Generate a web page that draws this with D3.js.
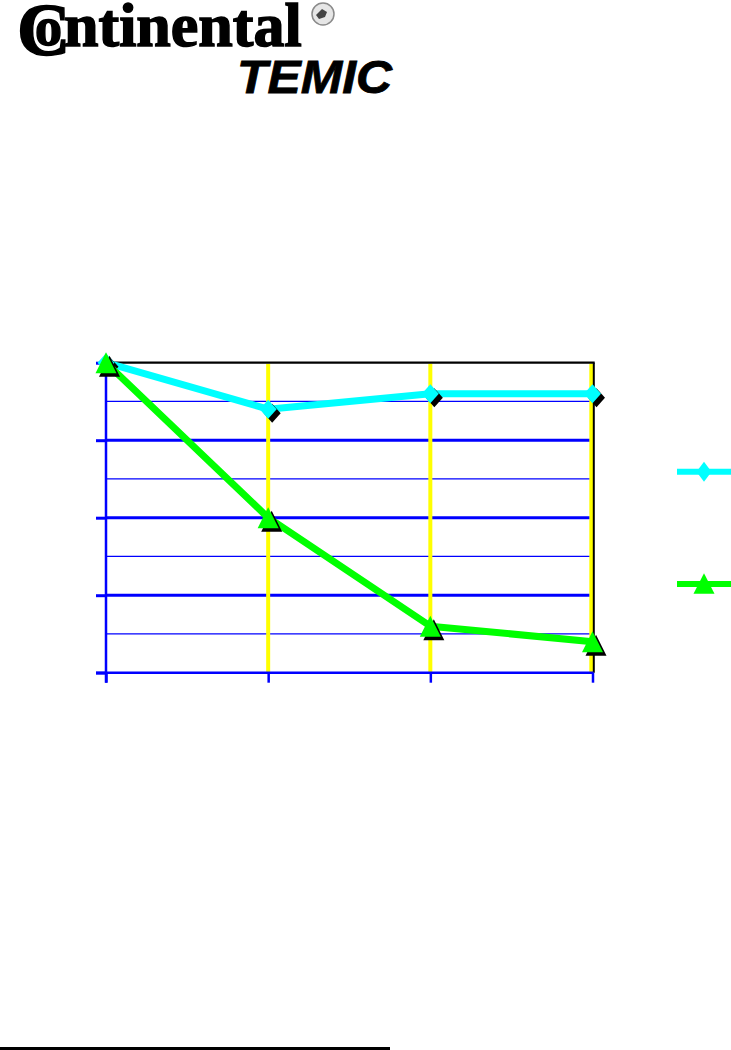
<!DOCTYPE html>
<html>
<head>
<meta charset="utf-8">
<script src="https://cdn.jsdelivr.net/npm/d3@7/dist/d3.min.js"></script>
<style>
html,body{margin:0;padding:0;background:#fff;}
svg{display:block;}
</style>
</head>
<body>
<svg id="chart" width="731" height="1050"></svg>
<script>
// Data
const categories = ["1", "2", "3", "4"];
const seriesNames = ["Series A", "Series B"];
const seriesA = [100, 85, 90, 90];
const seriesB = [100, 50, 15, 10];
const majorTicks = [0, 25, 50, 75, 100];
const minorTicks = [12.5, 37.5, 62.5, 87.5];

const svg = d3.select("#chart");

// Logo
const logo = svg.append("g");
const brand = logo.append("text")
  .attr("font-family", "Liberation Serif").attr("font-weight", "bold")
  .attr("stroke", "#000").attr("stroke-width", 1.5);
brand.append("tspan").attr("x", 17).attr("y", 55).attr("font-size", 74).text("C");
brand.append("tspan").attr("x", 35).attr("y", 45).attr("font-size", 54).text("o");
brand.append("tspan").attr("x", 64).attr("y", 46).attr("font-size", 62).text("ntinental");

logo.append("circle").attr("cx", 323).attr("cy", 14).attr("r", 11)
  .attr("fill", "#e6e6e6").attr("stroke", "#8a8a8a").attr("stroke-width", 1.5);
logo.append("path").attr("d", "M316,15 L322,9 L327,12 L325,17 L319,19 Z")
  .attr("fill", "#444");
logo.append("text").attr("x", 237).attr("y", 93)
  .attr("font-family", "Liberation Sans").attr("font-weight", "bold").attr("font-style", "italic")
  .attr("font-size", 46).attr("textLength", 155).attr("lengthAdjust", "spacingAndGlyphs")
  .attr("stroke", "#000").attr("stroke-width", 0.8)
  .text("TEMIC");

// Scales
const pLeft = 106, pRight = 592.5, pTop = 362.7, pBottom = 672.7;
const x = d3.scalePoint().domain(categories).range([pLeft, pRight]).padding(0);
const y = d3.scaleLinear().domain([0, 100]).range([pBottom, pTop]);

const g = svg.append("g");

// minor gridlines
g.selectAll(".minor").data(minorTicks).join("line")
  .attr("x1", pLeft).attr("x2", 591).attr("y1", d => y(d)).attr("y2", d => y(d))
  .attr("stroke", "#0000ff").attr("stroke-width", 1.3);

// major gridlines
g.selectAll(".major").data(majorTicks.slice(1, 4)).join("line")
  .attr("x1", pLeft).attr("x2", 591).attr("y1", d => y(d)).attr("y2", d => y(d))
  .attr("stroke", "#0000ff").attr("stroke-width", 3);

// category (yellow) gridlines
g.selectAll(".vgrid").data(categories.slice(1)).join("line")
  .attr("x1", d => Math.min(x(d), 591.3)).attr("x2", d => Math.min(x(d), 591.3))
  .attr("y1", pTop + 1).attr("y2", pBottom)
  .attr("stroke", "#ffff00").attr("stroke-width", 4);

// top and right border
g.append("line").attr("x1", pLeft).attr("x2", 594.7).attr("y1", pTop).attr("y2", pTop)
  .attr("stroke", "#000").attr("stroke-width", 2.2);
g.append("line").attr("x1", 593.8).attr("x2", 593.8).attr("y1", pTop).attr("y2", pBottom)
  .attr("stroke", "#000").attr("stroke-width", 2);

// axes
const yAxis = d3.axisLeft(y).tickValues(majorTicks).tickSize(10).tickFormat("");
const ya = g.append("g").attr("transform", `translate(${pLeft},0)`).call(yAxis);
ya.select(".domain").attr("stroke", "#0000ff").attr("stroke-width", 2.5).attr("d", `M0,${pTop}V${pBottom + 10}`);
ya.selectAll(".tick line").attr("stroke", "#0000ff").attr("stroke-width", 3);

const xAxis = d3.axisBottom(x).tickSize(10).tickFormat("");
const xa = g.append("g").attr("transform", `translate(0,${pBottom})`).call(xAxis);
xa.select(".domain").attr("stroke", "#0000ff").attr("stroke-width", 2.5).attr("d", `M96,0H${pRight + 1}`);
xa.selectAll(".tick line").attr("stroke", "#0000ff").attr("stroke-width", 2.5);

// markers
const diamond = (cx, cy, w, h) => `M${cx},${cy - h}L${cx + w},${cy}L${cx},${cy + h}L${cx - w},${cy}Z`;
const triangle = (cx, cy, w, h) => `M${cx},${cy - h / 2}L${cx + w / 2},${cy + h / 2}L${cx - w / 2},${cy + h / 2}Z`;

const line = d3.line().x((d, i) => x(categories[i])).y(d => y(d));

// series A (cyan)
g.append("path").datum(seriesA).attr("d", line)
  .attr("fill", "none").attr("stroke", "#00ffff").attr("stroke-width", 7).attr("stroke-linejoin", "round");
g.selectAll(".shA").data(seriesA).join("path")
  .attr("d", (d, i) => diamond(x(categories[i]) + 4, y(d) + 4, 8.5, 9.5)).attr("fill", "#000");
g.selectAll(".mkA").data(seriesA).join("path")
  .attr("d", (d, i) => diamond(x(categories[i]), y(d), 8.5, 9.5)).attr("fill", "#00ffff");

// series B (green)
g.append("path").datum(seriesB).attr("d", line)
  .attr("fill", "none").attr("stroke", "#00ff00").attr("stroke-width", 7).attr("stroke-linejoin", "round");
g.selectAll(".shB").data(seriesB).join("path")
  .attr("d", (d, i) => triangle(x(categories[i]) + 3.5, y(d) + 3.5, 21, 21)).attr("fill", "#000");
g.selectAll(".mkB").data(seriesB).join("path")
  .attr("d", (d, i) => triangle(x(categories[i]), y(d), 21, 21)).attr("fill", "#00ff00");

// legend
const legY = [471.7, 584];
const legColors = ["#00ffff", "#00ff00"];
seriesNames.forEach((s, i) => {
  svg.append("line").attr("x1", 677).attr("x2", 731).attr("y1", legY[i]).attr("y2", legY[i])
    .attr("stroke", legColors[i]).attr("stroke-width", 6);
});
svg.append("path").attr("d", diamond(704, legY[0], 7.5, 10)).attr("fill", "#00ffff");
svg.append("path").attr("d", triangle(704, legY[1] - 0.5, 21, 20.5)).attr("fill", "#00ff00");

// bottom rule
svg.append("line").attr("x1", 0).attr("x2", 390).attr("y1", 1048.5).attr("y2", 1048.5)
  .attr("stroke", "#000").attr("stroke-width", 3);
</script>
</body>
</html>
